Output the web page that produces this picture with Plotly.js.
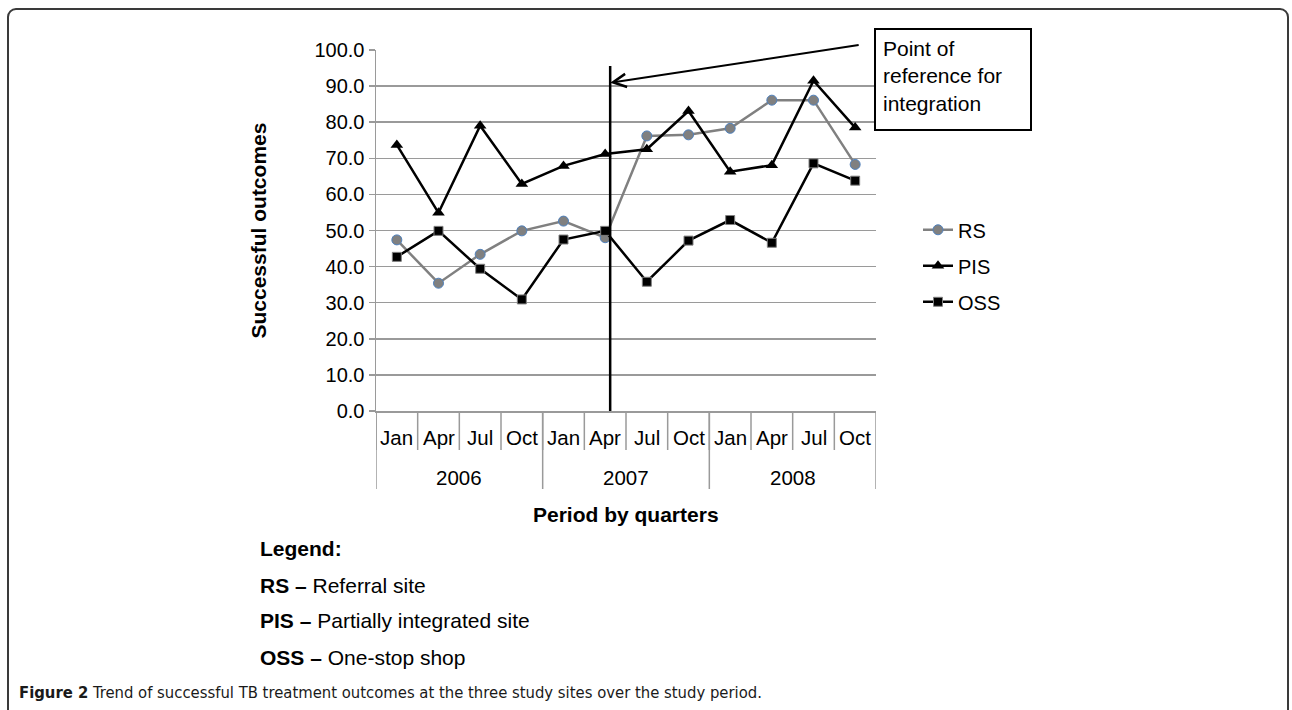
<!DOCTYPE html>
<html>
<head>
<meta charset="utf-8">
<script src="https://cdn.plot.ly/plotly-3.0.1.min.js"></script>
<style>
  html, body { margin: 0; padding: 0; background: #ffffff; }
  #wrap { position: relative; width: 1292px; height: 710px; overflow: hidden; }
  #frame { position: absolute; left: 7px; top: 8px; width: 1282px; height: 740px;
           border: 2px solid #3a3a3a; border-radius: 9px; box-sizing: border-box; }
  #chart { position: absolute; left: 0; top: 0; width: 1292px; height: 710px; }
</style>
</head>
<body>
<div id="wrap">
  <div id="frame"></div>
  <div id="chart"></div>
</div>
<script>
// ---- Data ----
const years  = ['2006','2006','2006','2006','2007','2007','2007','2007','2008','2008','2008','2008'];
const months = ['Jan','Apr','Jul','Oct','Jan','Apr','Jul','Oct','Jan','Apr','Jul','Oct'];
const rsValues  = [47.4, 35.4, 43.4, 49.9, 52.6, 48.0, 76.2, 76.5, 78.3, 86.1, 86.1, 68.3];
const pisValues = [73.7, 54.9, 79.0, 62.9, 67.9, 71.2, 72.5, 83.1, 66.3, 68.1, 91.5, 78.5];
const ossValues = [42.7, 49.9, 39.4, 30.9, 47.5, 49.9, 35.8, 47.2, 52.9, 46.6, 68.6, 63.8];
const seriesNames = ['RS', 'PIS', 'OSS'];
const yTickValues = [0, 10, 20, 30, 40, 50, 60, 70, 80, 90, 100];
const legendLines = [
  ['RS', 'Referral site'],
  ['PIS', 'Partially integrated site'],
  ['OSS', 'One-stop shop']
];
const integrationIndex = 5;      // Apr 2007
const integrationTop = 95.6;
const arrowTipValue = 90.9;
const boxText = 'Point of<br>reference for<br>integration';
const xTitle = 'Period by quarters';
const yTitle = 'Successful outcomes';
const caption = '<b>Figure 2</b> Trend of successful TB treatment outcomes at the three study sites over the study period.';

// ---- Styling ----
const FONT = 'Liberation Sans, Arial, Helvetica, sans-serif';
const NARROW = 'DejaVu Sans Condensed, Liberation Sans Narrow, Arial Narrow, sans-serif';
const GRID = '#9a9a9a';
const xCats = [years, months];
const PLOT_H = 361;
const py = (p) => (411 - p) / PLOT_H;   // page pixel row -> paper y

const traces = [
  {
    x: xCats, y: rsValues, name: seriesNames[0], type: 'scatter', mode: 'lines+markers',
    line: { color: '#808080', width: 2.5 },
    marker: { symbol: 'circle', size: 10, color: '#808080', line: { color: '#4f81bd', width: 1 } },
    legendgroup: 'g1'
  },
  {
    x: xCats, y: pisValues, name: seriesNames[1], type: 'scatter', mode: 'lines+markers',
    line: { color: '#000000', width: 2.5 },
    marker: { symbol: 'triangle-up', size: 11, color: '#000000' },
    legendgroup: 'g2'
  },
  {
    x: xCats, y: ossValues, name: seriesNames[2], type: 'scatter', mode: 'lines+markers',
    line: { color: '#000000', width: 2.5 },
    marker: { symbol: 'square', size: 9, color: '#000000', line: { color: '#808080', width: 1 } },
    legendgroup: 'g3'
  }
];

const shapes = [];
const annotations = [];

// month labels + month separators
months.forEach((m, i) => {
  annotations.push({ xref: 'x', yref: 'paper', x: i, y: py(437), text: m, showarrow: false,
    xanchor: 'center', yanchor: 'middle', font: { family: FONT, size: 20.5, color: '#000' } });
  shapes.push({ type: 'line', xref: 'x', yref: 'paper', x0: i - 0.5, x1: i - 0.5,
    y0: 0, y1: py(450), line: { color: GRID, width: 1.5 } });
});
// year labels + year dividers
const yearGroups = [];
years.forEach((y, i) => {
  const last = yearGroups[yearGroups.length - 1];
  if (last && last.name === y) { last.end = i; } else { yearGroups.push({ name: y, start: i, end: i }); }
});
yearGroups.forEach((g) => {
  annotations.push({ xref: 'x', yref: 'paper', x: (g.start + g.end) / 2, y: py(477), text: g.name,
    showarrow: false, xanchor: 'center', yanchor: 'middle', font: { family: FONT, size: 20.5, color: '#000' } });
  shapes.push({ type: 'line', xref: 'x', yref: 'paper', x0: g.start - 0.5, x1: g.start - 0.5,
    y0: 0, y1: py(489), line: { color: GRID, width: 1.5 } });
});
const lastG = yearGroups[yearGroups.length - 1];
shapes.push({ type: 'line', xref: 'x', yref: 'paper', x0: lastG.end + 0.5, x1: lastG.end + 0.5,
  y0: 0, y1: py(489), line: { color: GRID, width: 1.5 } });

// point of reference line
shapes.push({ type: 'line', xref: 'x', yref: 'y', x0: integrationIndex + 0.12, x1: integrationIndex + 0.12,
  y0: 0, y1: integrationTop, line: { color: '#000', width: 2.5 } });

annotations.push(
  { xref: 'paper', yref: 'paper', x: 0.5, y: py(514), text: '<b>' + xTitle + '</b>',
    showarrow: false, font: { family: FONT, size: 21, color: '#000' }, xanchor: 'center', yanchor: 'middle' },
  { xref: 'paper', yref: 'paper', x: -0.236, y: 0.5, text: '<b>' + yTitle + '</b>', textangle: -90,
    showarrow: false, font: { family: FONT, size: 21, color: '#000' }, xanchor: 'center', yanchor: 'middle' },
  { xref: 'paper', yref: 'paper', x: 0.996, y: py(28), text: boxText, align: 'left', valign: 'top',
    showarrow: false, xanchor: 'left', yanchor: 'top', width: 140, height: 85,
    bordercolor: '#000', borderwidth: 2, borderpad: 7, bgcolor: '#ffffff',
    font: { family: FONT, size: 21, color: '#000' } },
  { xref: 'x', yref: 'y', x: integrationIndex + 0.12, y: arrowTipValue, text: '',
    showarrow: true, ax: 250, ay: -38, arrowhead: 5, arrowsize: 1.3, arrowwidth: 2,
    arrowcolor: '#000', standoff: 0 },
  { xref: 'paper', yref: 'paper', x: -0.236, y: py(548), text: '<b>Legend:</b>',
    showarrow: false, xanchor: 'left', yanchor: 'middle', font: { family: FONT, size: 21, color: '#000' } },
  { xref: 'paper', yref: 'paper', x: -0.718, y: py(692), text: caption,
    showarrow: false, xanchor: 'left', yanchor: 'middle', font: { family: NARROW, size: 16.5, color: '#1a1a1a' } }
);
const legendY = [585, 620, 657];
legendLines.forEach((l, i) => {
  annotations.push({ xref: 'paper', yref: 'paper', x: -0.236, y: py(legendY[i]),
    text: '<b>' + l[0] + ' –</b> ' + l[1], showarrow: false, xanchor: 'left', yanchor: 'middle',
    font: { family: FONT, size: 21, color: '#000' } });
});

const layout = {
  width: 1292, height: 710,
  margin: { l: 376, r: 416, t: 50, b: 299, pad: 0 },
  paper_bgcolor: 'rgba(0,0,0,0)', plot_bgcolor: 'rgba(0,0,0,0)',
  font: { family: FONT, size: 20, color: '#000' },
  showlegend: true,
  legend: { x: 1.084, y: 0.556, xanchor: 'left', yanchor: 'top', bgcolor: 'rgba(0,0,0,0)',
            font: { family: FONT, size: 20, color: '#000' }, tracegroupgap: 7 },
  xaxis: {
    type: 'multicategory', range: [-0.5, months.length - 0.5], autorange: false,
    showline: true, linecolor: GRID, linewidth: 1.5,
    ticks: '', showticklabels: false, showgrid: false, zeroline: false, showdividers: false
  },
  yaxis: {
    range: [0, 100], tickmode: 'array', tickvals: yTickValues, tickformat: '.1f',
    showline: true, linecolor: GRID, linewidth: 1.5, ticks: 'outside', ticklen: 6, tickwidth: 1.5, tickcolor: GRID,
    showgrid: true, gridcolor: GRID, gridwidth: 1.5, zeroline: false,
    tickfont: { family: FONT, size: 20, color: '#000' }
  },
  shapes: shapes,
  annotations: annotations
};

Plotly.newPlot('chart', traces, layout, { displayModeBar: false, staticPlot: true });
</script>
</body>
</html>
